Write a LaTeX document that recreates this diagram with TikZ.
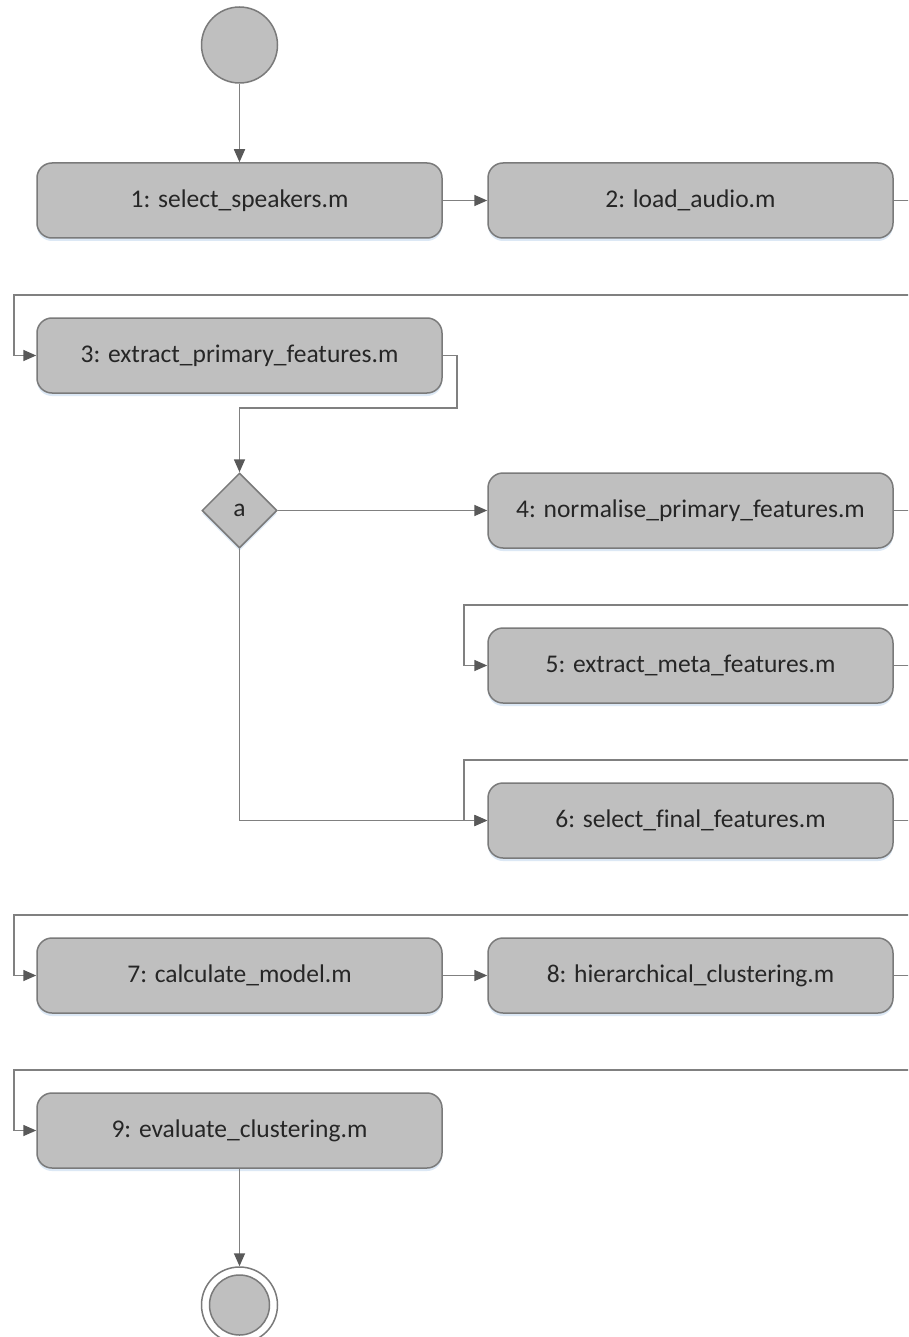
\documentclass[tikz,border=0pt]{standalone}
\usepackage{fontspec}
\setmainfont{Carlito}[Ligatures={NoCommon}]
\usetikzlibrary{arrows.meta,shapes.geometric,shadows}
\definecolor{boxfill}{HTML}{BFBFBF}
\definecolor{boxline}{HTML}{7A7A7A}
\definecolor{conn}{HTML}{808080}
\definecolor{tipc}{HTML}{595959}
\definecolor{glow}{HTML}{DCE8F5}
\tikzset{
  x=1pt,y=-1pt,
  every node/.style={font=\fontsize{25.5}{30}\selectfont, text=black!85},
  softshadow/.style={drop shadow={shadow xshift=0pt, shadow yshift=-3pt, fill=glow, opacity=1}},
  stepbox/.style={draw=boxline, line width=1.5pt, fill=boxfill, rounded corners=15pt,
    minimum width=405pt, minimum height=75pt, inner sep=0pt, softshadow},
  decision/.style={draw=boxline, line width=1.5pt, fill=boxfill, diamond, aspect=1,
    minimum width=75pt, minimum height=75pt, inner sep=0pt, softshadow},
  startnode/.style={draw=boxline, line width=1.5pt, fill=boxfill, circle, minimum size=76pt, inner sep=0pt},
  endinner/.style={draw=boxline, line width=1.5pt, fill=boxfill, circle, minimum size=60pt, inner sep=0pt},
  endouter/.style={draw=boxline, line width=1.5pt, circle, minimum size=76pt, inner sep=0pt},
  flow/.style={draw=conn, line width=1.6pt, -{Triangle[length=13pt,width=11pt,color=tipc]}},
  plainflow/.style={draw=conn, line width=1.6pt},
}
\begin{document}
\begin{tikzpicture}
\useasboundingbox (0,0) rectangle (908,1337);
\clip (0,0) rectangle (908,1337);
\fill[white] (0,0) rectangle (908,1337);

% nodes
\node[startnode] (start) at (239.5,45) {};
\node[stepbox] (s1) at (239.5,200.5) {1: select\_speakers.m};
\node[stepbox] (s2) at (690.5,200.5) {2: load\_audio.m};
\node[stepbox] (s3) at (239.5,355.5) {3: extract\_primary\_features.m};
\node[decision] (a) at (239.5,510.5) {a};
\node[stepbox] (s4) at (690.5,510.5) {4: normalise\_primary\_features.m};
\node[stepbox] (s5) at (690.5,665.5) {5: extract\_meta\_features.m};
\node[stepbox] (s6) at (690.5,820.5) {6: select\_final\_features.m};
\node[stepbox] (s7) at (239.5,975.5) {7: calculate\_model.m};
\node[stepbox] (s8) at (690.5,975.5) {8: hierarchical\_clustering.m};
\node[stepbox] (s9) at (239.5,1130.5) {9: evaluate\_clustering.m};
\node[endouter] (endo) at (239.5,1305) {};
\node[endinner] (endi) at (239.5,1305) {};

% free ends
\coordinate (r2) at (915,200.5);
\coordinate (l3a) at (915,295);
\coordinate (l3b) at (14,295);
\coordinate (r4) at (915,510.5);
\coordinate (l5a) at (915,605);
\coordinate (l5b) at (464,605);
\coordinate (r5) at (915,665.5);
\coordinate (l6a) at (915,760);
\coordinate (l6b) at (464,760);
\coordinate (r6) at (915,820.5);
\coordinate (l7a) at (915,915);
\coordinate (l7b) at (14,915);
\coordinate (r8) at (915,975.5);
\coordinate (l9a) at (915,1070);
\coordinate (l9b) at (14,1070);
\coordinate (k3) at (457,408);

% connectors
\draw[flow] (start) -- (s1);
\draw[flow] (s1) -- (s2);
\draw[plainflow] (s2) -- (r2);
\draw[flow] (l3a) -- (l3b) |- (s3.west);
\draw[flow] (s3.east) -| (k3) -| (a.north);
\draw[flow] (a.east) -- (s4.west);
\draw[plainflow] (s4) -- (r4);
\draw[flow] (l5a) -- (l5b) |- (s5.west);
\draw[plainflow] (s5) -- (r5);
\draw[flow] (l6a) -- (l6b) |- (s6.west);
\draw[flow] (a.south) |- (s6.west);
\draw[plainflow] (s6) -- (r6);
\draw[flow] (l7a) -- (l7b) |- (s7.west);
\draw[flow] (s7) -- (s8);
\draw[plainflow] (s8) -- (r8);
\draw[flow] (l9a) -- (l9b) |- (s9.west);
\draw[flow] (s9) -- (endo);
\end{tikzpicture}
\end{document}
